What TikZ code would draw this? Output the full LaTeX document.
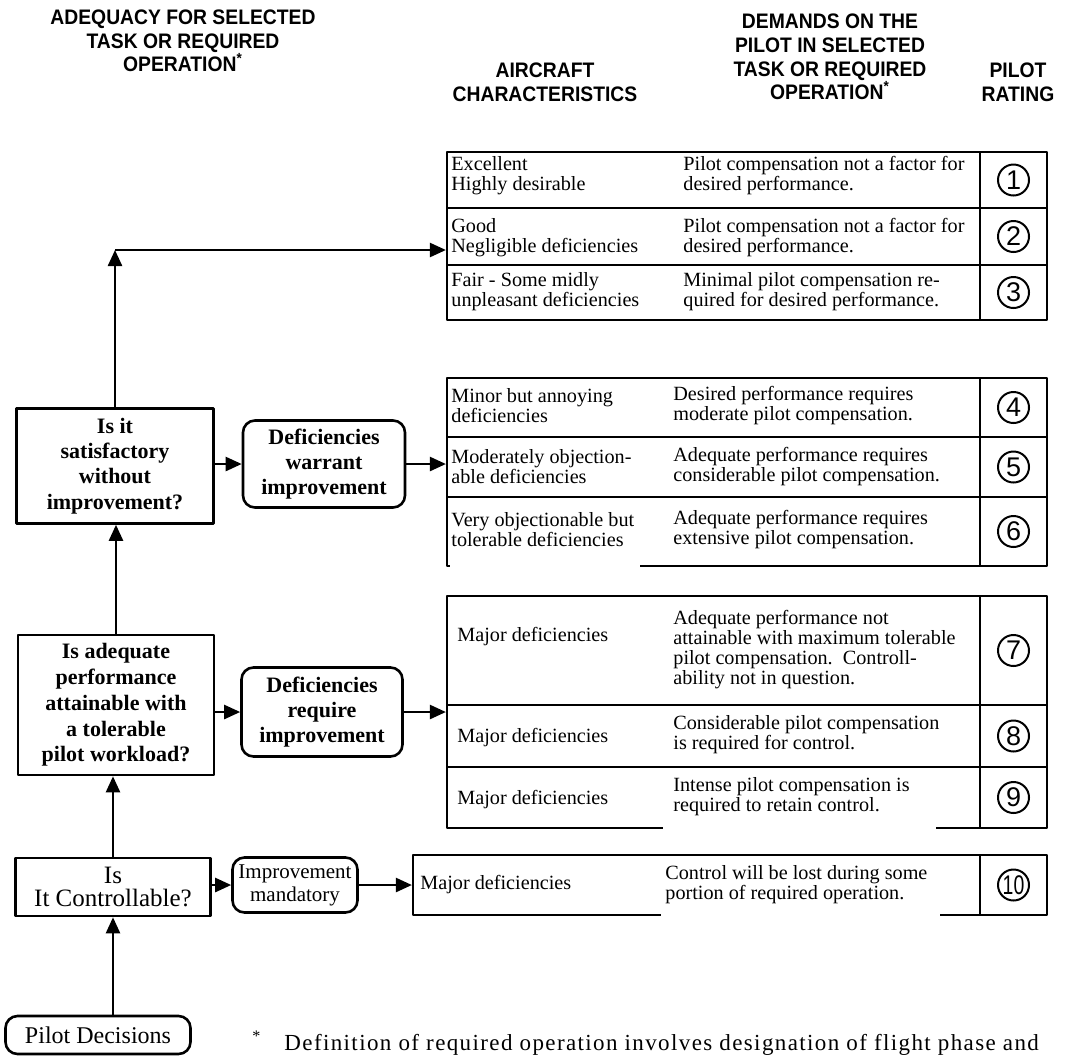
\documentclass[tikz,border=0pt]{standalone}
\usepackage{fontspec}
\setmainfont{Liberation Serif}
\newfontfamily\hdfont[FakeStretch=0.92]{Liberation Sans}
\newfontfamily\numfont{Liberation Sans}
\usetikzlibrary{arrows.meta,fit,positioning}

\begin{document}
\begin{tikzpicture}[x=0.5pt, y=-0.5pt, line join=round, >={Triangle[length=8pt,width=7pt]},
  hd/.style={font=\hdfont\bfseries\fontsize{10.5}{11.8}\selectfont, align=center, inner sep=0pt},
  cell/.style={draw, line width=1.1pt, inner sep=0pt},
  txt/.style={anchor=west, align=left, inner sep=0pt, font=\fontsize{10.1}{10}\selectfont},
  qbox/.style={draw, line width=1.3pt, align=center, inner sep=0pt, font=\bfseries\fontsize{11}{12.6}\selectfont},
  rbox/.style={qbox, rounded corners=6pt},
  rnum/.style={circle, draw, line width=1pt, minimum size=15.5pt, inner sep=0pt, font=\numfont\fontsize{13.5}{13.5}\selectfont},
  flow/.style={->, line width=1.2pt}]
\useasboundingbox (0,0) rectangle (1065,1056);
\clip (0,0) rectangle (1065,1056);

% column heads
\node[hd] (hadeq) at (183,41) {ADEQUACY FOR SELECTED\\TASK OR REQUIRED\\OPERATION\textsuperscript{*}};
\node[hd] (hair) at (545,82) {AIRCRAFT\\CHARACTERISTICS};
\node[hd] (hdem) at (830,57) {DEMANDS ON THE\\PILOT IN SELECTED\\TASK OR REQUIRED\\OPERATION\textsuperscript{*}};
\node[hd] (hrat) at (1018,82) {PILOT\\RATING};

% rating table
\foreach \n/\ta/\tb/\xl in {1/152/208/447, 2/208/265/447, 3/265/320/447,
    4/378/437/447, 5/437/497/447, 6/497/566/447,
    7/596/705/447, 8/705/767/447, 9/767/828/447, 10/855/915/413}
{
  \node[cell, fit={(\xl,\ta) (980,\tb)}] (r\n) {};
  \node[cell, fit={(980,\ta) (1047,\tb)}] (p\n) {};
}
\foreach \n in {1,...,9}
  \node[rnum] (c\n) at (p\n) {\n};
\node[rnum] (c10) at (p10) {\scalebox{0.72}[1]{10}};

% worn rules of the scan
\fill[white] (450,561) rectangle (640,571);
\fill[white] (663,823) rectangle (936,833);
\fill[white] (661,910) rectangle (940,920);

\node[txt] (a1) at (451,176) {Excellent\\Highly desirable};
\node[txt] (d1) at (683,176) {Pilot compensation not a factor for\\desired performance.};
\node[txt] (a2) at (451,238) {Good\\Negligible deficiencies};
\node[txt] (d2) at (683,238) {Pilot compensation not a factor for\\desired performance.};
\node[txt] (a3) at (451,292) {Fair - Some midly\\unpleasant deficiencies};
\node[txt] (d3) at (683,292) {Minimal pilot compensation re-\\quired for desired performance.};
\node[txt] (a4) at (451,406) {Minor but annoying\\deficiencies};
\node[txt] (d4) at (673,406) {Desired performance requires\\moderate pilot compensation.};
\node[txt] (a5) at (451,467) {Moderately objection-\\able deficiencies};
\node[txt] (d5) at (673,467) {Adequate performance requires\\considerable pilot compensation.};
\node[txt] (a6) at (451,530) {Very objectionable but\\tolerable deficiencies};
\node[txt] (d6) at (673,530) {Adequate performance requires\\extensive pilot compensation.};
\node[txt] (a7) at (457,637) {Major deficiencies};
\node[txt] (d7) at (673,650) {Adequate performance not\\attainable with maximum tolerable\\pilot compensation.\ \ Controll-\\ability not in question.};
\node[txt] (a8) at (457,738) {Major deficiencies};
\node[txt] (d8) at (673,735) {Considerable pilot compensation\\is required for control.};
\node[txt] (a9) at (457,800) {Major deficiencies};
\node[txt] (d9) at (673,797) {Intense pilot compensation is\\required to retain control.};
\node[txt] (a10) at (420,885) {Major deficiencies};
\node[txt] (d10) at (665,885) {Control will be lost during some\\portion of required operation.};

% pilot decisions
\node[qbox, minimum width=98.5pt, minimum height=57.5pt] (sat) at (115,466) {Is it\\satisfactory\\without\\improvement?};
\node[rbox, minimum width=81pt, minimum height=43.5pt] (warrant) at (324,464) {Deficiencies\\warrant\\improvement};
\node[qbox, minimum width=98pt, minimum height=70pt, font=\bfseries\fontsize{11}{12.9}\selectfont] (adeq) at (116,705) {Is adequate\\performance\\attainable with\\a tolerable\\pilot workload?};
\node[rbox, minimum width=80.5pt, minimum height=44.5pt] (require) at (322,712) {Deficiencies\\require\\improvement};
\node[qbox, minimum width=97.5pt, minimum height=29pt, font=\fontsize{12.5}{11.5}\selectfont] (ctrl) at (113,887) {Is\\It Controllable?};
\node[rbox, minimum width=62.5pt, minimum height=27.5pt, font=\fontsize{10.5}{11.5}\selectfont] (mand) at (295,885) {Improvement\\mandatory};
\node[rbox, minimum width=92.5pt, minimum height=19pt, font=\fontsize{12}{12}\selectfont] (pdec) at (98,1035) {Pilot Decisions};

\coordinate (bend) at (115,250);
\draw[flow] (sat.north) -- (bend);
\draw[flow] (bend) -- (bend -| r2.west);
\draw[flow] (sat.east |- warrant.west) -- (warrant.west);
\draw[flow] (warrant.east) -- (warrant.east -| r5.west);
\draw[flow] (adeq.north) -- (adeq.north |- sat.south);
\draw[flow] (adeq.east |- require.west) -- (require.west);
\draw[flow] (require.east) -- (require.east -| r8.west);
\draw[flow] (ctrl.north) -- (ctrl.north |- adeq.south);
\draw[flow] (ctrl.east |- mand.west) -- (mand.west);
\draw[flow] (mand.east) -- (mand.east -| r10.west);
\draw[flow] (ctrl.south |- pdec.north) -- (ctrl.south);

\node[anchor=base west, inner sep=0pt, font=\addfontfeature{LetterSpace=6}\fontsize{11.5}{12}\selectfont] (fnote) at (252,1050) {\textsuperscript{*}\quad Definition of required operation involves designation of flight phase and};
\end{tikzpicture}
\end{document}
